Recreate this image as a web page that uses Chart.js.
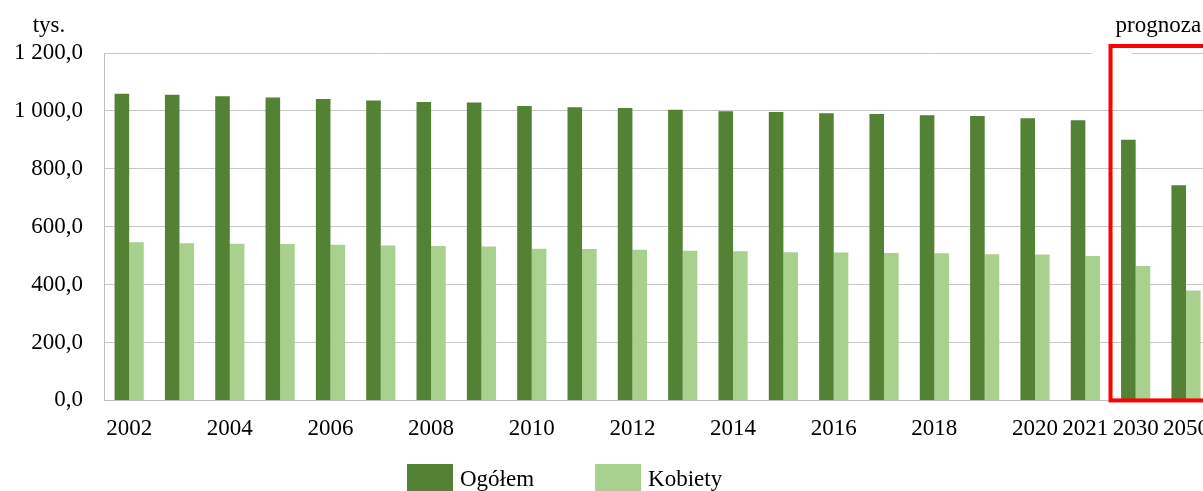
<!DOCTYPE html>
<html>
<head>
<meta charset="utf-8">
<script src="https://cdn.jsdelivr.net/npm/chart.js@4"></script>
<style>
  html, body { margin: 0; padding: 0; background: #fff; overflow: hidden; }
  #wrap { width: 1224px; height: 502px; position: relative; }
</style>
</head>
<body>
<div id="wrap"><canvas id="chartEmployment"></canvas></div>
<script>
const years = ["2002", "2003", "2004", "2005", "2006", "2007", "2008", "2009", "2010", "2011",
  "2012", "2013", "2014", "2015", "2016", "2017", "2018", "2019", "2020", "2021", "2030", "2050"];
const labeledYears = ["2002", "2004", "2006", "2008", "2010", "2012", "2014", "2016", "2018",
  "2020", "2021", "2030", "2050"];
const ogolem = [1059, 1056, 1051, 1046, 1041, 1036, 1031, 1029, 1017, 1013,
  1010, 1004, 999, 996, 992, 989, 985, 982, 975, 968, 900, 743];
const kobiety = [546, 543, 541, 540, 538, 535, 533, 532, 524, 523,
  520, 517, 515, 512, 511, 509, 508, 505, 504, 499, 464, 380];
const forecastFrom = "2030";
const yTicks = [0, 200, 400, 600, 800, 1000, 1200];

const FONT = "'Liberation Serif', 'Times New Roman', serif";
const FONT_SIZE = 23;

function formatPl(v) {
  const [int, dec] = Number(v).toFixed(1).split(".");
  return int.replace(/\B(?=(\d{3})+(?!\d))/g, " ") + "," + dec;
}

function forecastEdge(chart) {
  const x = chart.scales.x;
  const i = years.indexOf(forecastFrom);
  return (x.getPixelForValue(i - 1) + x.getPixelForValue(i)) / 2;
}

const annotations = {
  id: "annotations",
  beforeDatasetsDraw(chart) {
    const { ctx, chartArea } = chart;
    const x0 = forecastEdge(chart);
    // the "prognoza" text box hides the end of the top grid line
    ctx.save();
    ctx.fillStyle = "#fff";
    ctx.fillRect(x0 - 19, chartArea.top - 3, 40, 6);
    ctx.restore();
  },
  afterDatasetsDraw(chart) {
    const { ctx, chartArea, scales } = chart;
    const x0 = forecastEdge(chart);
    const yBottom = scales.y.getPixelForValue(0);
    const yTop = chartArea.top - 7;
    ctx.save();
    ctx.strokeStyle = "#ff0000";
    ctx.lineWidth = 4;
    ctx.strokeRect(x0, yTop, chartArea.right + 20 - x0, yBottom - yTop);

    ctx.fillStyle = "#000";
    ctx.font = `${FONT_SIZE}px ${FONT}`;
    ctx.textBaseline = "alphabetic";
    ctx.textAlign = "left";
    ctx.fillText("prognoza", x0 + 5, 32);
    ctx.textAlign = "center";
    ctx.fillText("tys.", 49, 32);
    ctx.restore();
  },
  afterDraw(chart) {
    // legend: wide gaps between entries like the original
    const { ctx } = chart;
    let x = 407;
    const top = 464;
    ctx.save();
    ctx.font = `${FONT_SIZE}px ${FONT}`;
    ctx.textBaseline = "middle";
    ctx.textAlign = "left";
    chart.data.datasets.forEach((ds) => {
      ctx.fillStyle = ds.backgroundColor;
      ctx.fillRect(x, top, 46, 28);
      ctx.fillStyle = "#000";
      ctx.fillText(ds.label, x + 53, top + 16);
      x += 53 + ctx.measureText(ds.label).width + 61;
    });
    ctx.restore();
  },
};

new Chart(document.getElementById("chartEmployment").getContext("2d"), {
  type: "bar",
  data: {
    labels: years,
    datasets: [
      { label: "Ogółem", data: ogolem, backgroundColor: "#548235" },
      { label: "Kobiety", data: kobiety, backgroundColor: "#a9d18e" },
    ],
  },
  options: {
    responsive: true,
    maintainAspectRatio: false,
    animation: false,
    layout: { padding: { top: 53, left: 12, right: 0, bottom: 44 } },
    datasets: { bar: { categoryPercentage: 0.58, barPercentage: 1.0 } },
    scales: {
      x: {
        grid: { display: false, drawTicks: false },
        border: { color: "#bfbfbf" },
        ticks: {
          autoSkip: false,
          maxRotation: 0,
          padding: 15,
          color: "#000",
          font: { family: FONT, size: FONT_SIZE },
          callback: (v, i) => (labeledYears.includes(years[i]) ? years[i] : ""),
        },
      },
      y: {
        min: 0,
        max: 1200,
        afterBuildTicks: (axis) => { axis.ticks = yTicks.map((value) => ({ value })); },
        afterFit: (axis) => { axis.width = 92; },
        grid: { color: "#c8c8c8", drawTicks: false },
        border: { color: "#bfbfbf" },
        ticks: {
          padding: 21,
          color: "#000",
          font: { family: FONT, size: FONT_SIZE },
          callback: (v) => formatPl(v),
        },
      },
    },
    plugins: {
      legend: { display: false },
      tooltip: { enabled: false },
    },
  },
  plugins: [annotations],
});
</script>
</body>
</html>
